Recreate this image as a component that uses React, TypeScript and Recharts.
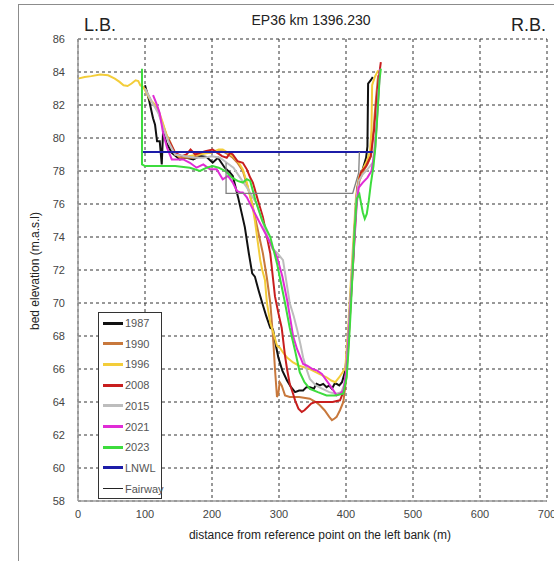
import React from "react";
import { LineChart, Line, XAxis, YAxis, CartesianGrid } from "recharts";

type Pt = [number, number];

const xTicks = [0, 100, 200, 300, 400, 500, 600, 700];
const yTicks = [58, 60, 62, 64, 66, 68, 70, 72, 74, 76, 78, 80, 82, 84, 86];

const s1987: Pt[] = [
  [100, 83.2], [106, 82.3], [112, 81.2], [115, 80.8], [118, 79.8], [122, 79.8], [125, 78.4], [127, 80.4],
  [132, 79.7], [140, 79.1], [152, 78.7], [162, 78.8], [172, 78.7], [182, 78.9], [192, 78.85], [201, 78.5],
  [209, 78.8], [214, 78.5], [219, 78.2], [227, 77.9], [231, 77.7], [239, 76.4], [249, 74.6], [255, 73.0],
  [260, 71.8], [264, 71.6], [270, 70.7], [275, 70.0], [281, 69.2], [287, 68.5], [291, 68.4], [295, 67.5],
  [299, 66.7], [305, 65.9], [312, 65.3], [318, 64.9], [324, 64.6], [330, 64.7], [336, 64.7], [341, 64.9],
  [346, 64.9], [352, 64.8], [356, 65.1], [361, 65.0], [366, 65.1], [371, 64.9], [375, 65.0], [379, 64.8],
  [383, 65.1], [386, 65.1], [390, 65.0], [394, 65.2], [399, 65.9], [403, 67.8], [406, 69.8], [409, 71.8],
  [412, 73.8], [415, 76.0], [419, 77.4], [425, 78.1], [430, 78.8], [432, 79.5], [433, 83.3], [437, 83.5],
  [440, 83.7],
];

const s1990: Pt[] = [
  [100, 83.0], [110, 82.2], [118, 81.8], [125, 81.0], [132, 80.2], [137, 79.8], [145, 79.1], [152, 78.8],
  [162, 78.8], [172, 78.8], [182, 79.0], [190, 79.1], [197, 79.1], [205, 79.2], [216, 79.2], [224, 79.0],
  [231, 78.8], [238, 78.5], [246, 78.0], [252, 77.2], [257, 76.5], [261, 75.8], [268, 74.5], [276, 73.0],
  [282, 71.5], [287, 70.0], [291, 68.0], [294, 66.0], [297, 64.3], [299, 64.5], [301, 65.2], [304, 65.0],
  [309, 64.4], [316, 64.3], [330, 64.3], [346, 64.2], [355, 64.0], [361, 63.8], [368, 63.5], [375, 63.1],
  [379, 62.9], [383, 63.0], [386, 63.1], [391, 63.5], [396, 64.0], [400, 65.3], [404, 67.8], [407, 70],
  [410, 72], [413, 74.2], [416, 76.3], [420, 77.4], [426, 78.0], [432, 78.4], [437, 78.9], [441, 80.5],
  [445, 82.5], [448, 83.8],
];

const s1996: Pt[] = [
  [0, 83.6], [10, 83.7], [20, 83.75], [33, 83.85], [45, 83.8], [55, 83.6], [62, 83.4], [68, 83.2],
  [74, 83.15], [80, 83.3], [86, 83.5], [90, 83.45], [93, 83.2], [97, 83.1], [100, 82.9], [108, 82.3],
  [118, 81.9], [126, 81.0], [132, 80.2], [137, 79.7], [145, 79.0], [152, 78.9], [165, 78.9], [180, 79.0],
  [197, 79.1], [210, 79.3], [216, 79.3], [224, 79.1], [231, 78.9], [240, 78.5], [246, 78.1], [252, 77.3],
  [256, 76.6], [260, 76.0], [264, 75.0], [268, 73.8], [272, 72.6], [275, 72.0], [279, 71.4], [282, 70.0],
  [287, 68.8], [293, 68.0], [297, 67.4], [301, 67.3], [306, 67.0], [312, 66.7], [321, 66.4], [330, 66.2],
  [346, 66.0], [360, 65.7], [371, 65.5], [378, 65.3], [384, 65.2], [390, 65.5], [395, 65.8], [399, 66.1],
  [403, 68.3], [406, 70.5], [409, 72.5], [412, 74.5], [415, 76.5], [419, 77.6], [425, 78.1], [431, 78.6],
  [436, 79.2], [438, 80.5], [439, 83.2], [443, 83.7], [448, 84.1],
];

const s2008: Pt[] = [
  [135, 79.9], [145, 79.1], [155, 78.9], [162, 79.0], [168, 79.3], [175, 79.0], [182, 79.1], [190, 79.2],
  [201, 79.3], [208, 79.1], [215, 78.9], [222, 78.8], [227, 79.1], [231, 79.0], [238, 78.6], [246, 78.5],
  [252, 78.1], [257, 77.6], [261, 77.3], [268, 76.3], [276, 75.2], [282, 74.0], [287, 73.0], [291, 71.5],
  [294, 70.4], [299, 69.4], [304, 68.5], [309, 66.8], [312, 66.0], [316, 65.1], [321, 64.5], [324, 64.1],
  [329, 63.6], [334, 63.4], [338, 63.5], [343, 63.7], [348, 63.9], [354, 64.0], [362, 64.0], [371, 64.0],
  [380, 64.0], [391, 64.1], [398, 64.8], [402, 66.8], [405, 69], [408, 71], [411, 73], [414, 75.3],
  [417, 77.0], [422, 77.9], [430, 78.3], [437, 78.9], [442, 80.5], [446, 82.5], [450, 84.0], [452, 84.6],
];

const s2015: Pt[] = [
  [100, 83.0], [110, 82.2], [120, 81.5], [130, 80.3], [137, 79.6], [145, 79.0], [160, 78.9], [175, 78.8],
  [187, 78.8], [200, 78.9], [212, 78.8], [222, 78.5], [232, 78.2], [242, 77.6], [252, 77.0], [261, 76.4],
  [267, 76.0], [275, 75.0], [283, 74.0], [290, 73.3], [298, 73.0], [306, 72.6], [311, 71.3], [316, 70.0],
  [322, 69.2], [327, 68.4], [332, 67.5], [336, 66.7], [341, 66.0], [346, 65.4], [355, 65.0], [365, 64.8],
  [375, 64.6], [385, 64.5], [393, 64.6], [399, 65.2], [403, 67.8], [406, 70], [409, 72], [412, 74],
  [415, 76.2], [419, 77.4], [425, 77.8], [432, 78.1], [440, 78.5], [445, 80.5], [449, 83],
];

const s2021: Pt[] = [
  [112, 82.6], [117, 82.1], [122, 81.5], [127, 80.3], [133, 79.4], [140, 78.7], [150, 78.7], [157, 78.7],
  [167, 78.5], [177, 78.2], [187, 78.4], [197, 78.1], [207, 78.1], [216, 77.5], [224, 77.7], [231, 77.3],
  [237, 76.8], [242, 76.7], [246, 76.7], [252, 76.4], [262, 75.6], [272, 74.8], [285, 73.8], [297, 72.8],
  [305, 71.6], [312, 70.2], [317, 69.0], [321, 68.0], [327, 67.2], [336, 66.3], [342, 66.2], [350, 66.0],
  [357, 65.9], [364, 65.7], [371, 65.3], [378, 64.9], [386, 64.4], [391, 64.5], [396, 64.7], [401, 66],
  [404, 68], [407, 70], [410, 72], [413, 74], [416, 76], [419, 77.0], [425, 77.3], [432, 77.6],
  [438, 78.0], [443, 79.2], [446, 81], [449, 83], [451, 84.2],
];

const s2023: Pt[] = [
  [95.5, 84.2], [95.5, 78.4], [100, 78.3], [120, 78.3], [145, 78.3], [167, 78.2], [182, 78.0], [192, 78.2],
  [201, 78.3], [210, 78.2], [220, 78.0], [230, 77.6], [238, 77.4], [246, 77.3], [252, 77.5], [257, 77.4],
  [265, 76.2], [275, 75.0], [287, 74.0], [292, 73.2], [297, 72.4], [303, 71.2], [309, 70.0], [316, 68.5],
  [324, 67.1], [331, 65.8], [338, 65.2], [346, 64.8], [358, 64.6], [371, 64.4], [384, 64.4], [396, 64.5],
  [401, 65.5], [404, 67.3], [407, 69.5], [410, 72], [413, 74.5], [416, 76.3], [420, 76.6], [425, 75.5],
  [428, 75.1], [431, 75.4], [434, 76.2], [437, 77.2], [441, 78.3], [444, 79.5], [447, 81.5], [450, 83.5],
  [452, 84.2],
];

const lnwl: Pt[] = [[97, 79.15], [440, 79.15]];

const fairway: Pt[] = [[221, 78.5], [221, 76.65], [410, 76.65], [419, 77.9], [420, 79.15]];

const FONT = "'Liberation Sans', Arial, sans-serif";

const series = [
  { name: "1987", pts: s1987, color: "#111111", width: 2 },
  { name: "1990", pts: s1990, color: "#c8783c", width: 2 },
  { name: "1996", pts: s1996, color: "#f3cd3a", width: 2 },
  { name: "2008", pts: s2008, color: "#c81e1e", width: 2 },
  { name: "2015", pts: s2015, color: "#bdbdbd", width: 2 },
  { name: "2021", pts: s2021, color: "#e02cd6", width: 2 },
  { name: "2023", pts: s2023, color: "#3ddc3d", width: 2 },
  { name: "LNWL", pts: lnwl, color: "#1c1ca8", width: 2 },
  { name: "Fairway", pts: fairway, color: "#808080", width: 1.3 },
];

const toData = (pts: Pt[]) => pts.map(([x, y]) => ({ x, y }));

function LegendBox() {
  return (
    <div
      style={{
        position: "absolute",
        left: 98,
        top: 312,
        width: 64,
        height: 187,
        border: "1.3px solid #333",
        background: "#fff",
        boxSizing: "border-box",
      }}
    >
      {series.map((s, i) => (
        <div
          key={s.name}
          style={{
            position: "absolute",
            left: 4,
            top: 3 + i * 20.7,
            height: 14,
            display: "flex",
            alignItems: "center",
            fontSize: 11,
            color: "#555",
            fontFamily: FONT,
          }}
        >
          <span
            style={{
              display: "inline-block",
              width: 20,
              height: s.name === "Fairway" ? 1 : 3,
              background: s.name === "Fairway" ? "#222" : s.color,
              marginRight: 2,
            }}
          />
          {s.name}
        </div>
      ))}
    </div>
  );
}

export default function App() {
  return (
    <div
      style={{
        position: "absolute",
        left: 0,
        top: 0,
        width: 554,
        height: 561,
        overflow: "hidden",
        background: "#fff",
        fontFamily: FONT,
      }}
    >
      <div
        style={{
          position: "absolute",
          left: 18,
          top: 4,
          width: 700,
          height: 700,
          border: "1.5px solid #8c8c8c",
        }}
      />
      <LineChart width={554} height={561} margin={{ top: 39, right: 7, bottom: 30, left: 38 }}>
        <CartesianGrid stroke="#333" strokeDasharray="3 3" strokeWidth={1} />
        <XAxis
          type="number"
          dataKey="x"
          domain={[0, 700]}
          ticks={xTicks}
          interval={0}
          height={30}
          tickLine={false}
          tickSize={0}
          tickMargin={9}
          axisLine={{ stroke: "#9a9a9a", strokeWidth: 1.5 }}
          tick={{ fontSize: 11, fill: "#444", fontFamily: FONT }}
        />
        <YAxis
          type="number"
          domain={[58, 86]}
          ticks={yTicks}
          interval={0}
          width={40}
          tickLine={false}
          tickSize={0}
          tickMargin={13}
          axisLine={{ stroke: "#9a9a9a", strokeWidth: 1.5 }}
          tick={{ fontSize: 11, fill: "#444", fontFamily: FONT }}
        />
        {series.map((s) => (
          <Line
            key={s.name}
            data={toData(s.pts)}
            dataKey="y"
            name={s.name}
            type="linear"
            stroke={s.color}
            strokeWidth={s.width}
            dot={false}
            activeDot={false}
            isAnimationActive={false}
          />
        ))}
      </LineChart>
      <LegendBox />
      <div style={{ position: "absolute", left: 0, width: 622, top: 12, textAlign: "center", fontSize: 14, color: "#222" }}>
        EP36 km 1396.230
      </div>
      <div style={{ position: "absolute", left: 84, top: 15, fontSize: 18, color: "#222" }}>L.B.</div>
      <div style={{ position: "absolute", left: 511, top: 15, fontSize: 18, color: "#222" }}>R.B.</div>
      <div
        style={{
          position: "absolute",
          left: 35,
          top: 271,
          transform: "translate(-50%, -50%) rotate(-90deg)",
          whiteSpace: "nowrap",
          fontSize: 12,
          color: "#222",
        }}
      >
        bed elevation (m.a.s.l)
      </div>
      <div style={{ position: "absolute", left: 0, width: 640, top: 528, textAlign: "center", fontSize: 12, color: "#222" }}>
        distance from reference point on the left bank (m)
      </div>
    </div>
  );
}
